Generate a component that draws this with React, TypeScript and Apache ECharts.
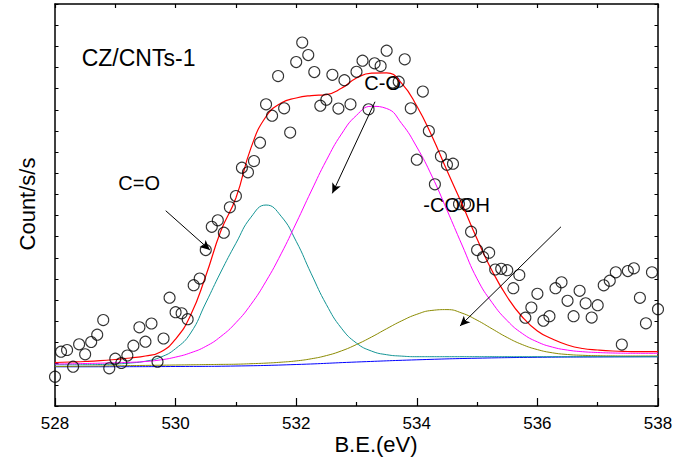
import React, { useEffect, useRef } from "react";
import * as echarts from "echarts";

// Measured spectrum (binding energy grid 528.0 .. 538.0 eV, step 0.1 eV)
const pointStart = 528;
const pointStep = 0.1;
const measured = [
  1.385, 2.566, 2.647, 1.857, 2.916, 2.443, 3.025, 3.37, 4.064, 1.782,
  2.235, 2.032, 2.387, 2.85, 3.719, 3.039, 3.899, 2.094, 3.19, 5.118,
  4.433, 4.381, 4.102, 5.709, 6.025, 7.372, 8.469, 8.776, 8.19, 9.39,
  9.924, 11.262, 11.044, 11.578, 12.443, 14.258, 13.719, 15.595, 14.069, 12.925,
  16.257, 17.179, 16.588, 15.784, 14.192, 14.476, 15.652, 14.06, 15.397, 14.258,
  15.794, 16.319, 14.022, 16.196, 16.068, 16.791, 15.288, 15.326, 16.385, 14.069,
  11.64, 14.863, 12.996, 10.477, 11.801, 11.404, 11.451, 9.546, 9.546, 8.237,
  7.372, 7.042, 7.245, 6.451, 6.484, 6.418, 5.567, 6.191, 4.173, 4.655,
  5.302, 4.031, 4.244, 5.567, 5.846, 4.972, 4.244, 5.444, 4.853, 4.182,
  4.764, 5.704, 5.922, 6.318, 2.906, 6.38, 6.508, 5.113, 3.908, 6.318,
  4.575,
];

// Fitted curves (grid 528.0 .. 538.0 eV, step 0.25 eV)
const curveStart = 528;
const curveStep = 0.25;
const envelope = [
  2.056, 2.079, 2.103, 2.141, 2.198, 2.268, 2.363, 2.552, 3.166,
  4.301, 6.144, 8.27, 9.83, 12.2, 13.681, 14.319, 14.556,
  14.674, 14.721, 15.014, 15.501, 15.737, 15.747, 15.25, 14.178,
  12.76, 11.129, 9.546, 7.892, 6.38, 5.151, 4.206, 3.544,
  3.166, 2.883, 2.717, 2.647, 2.599, 2.576, 2.566, 2.566,
];
const peakCO = [
  1.947, 1.947, 1.952, 1.961, 1.985, 2.032, 2.117, 2.306, 2.713,
  3.45, 4.868, 6.333, 7.689, 8.923, 9.499, 8.97, 7.784,
  6.248, 4.797, 3.677, 2.973, 2.595, 2.424, 2.358, 2.33,
  2.33, 2.33, 2.33, 2.33, 2.33, 2.33, 2.33, 2.33,
  2.33, 2.33, 2.33, 2.33, 2.33, 2.33, 2.33, 2.33,
];
const peakC_O = [
  1.985, 1.994, 2.008, 2.023, 2.042, 2.065, 2.103, 2.179, 2.311,
  2.514, 2.817, 3.285, 3.937, 4.802, 5.898, 7.193, 8.648,
  10.161, 11.611, 12.85, 13.738, 14.164, 14.06, 13.346, 12.24,
  10.87, 9.263, 7.609, 6.011, 4.882, 4.031, 3.426, 3.029,
  2.783, 2.642, 2.566, 2.528, 2.505, 2.495, 2.491, 2.491,
];
const peakCOOH = [
  1.867, 1.871, 1.881, 1.89, 1.9, 1.909, 1.919, 1.928, 1.938,
  1.947, 1.957, 1.966, 1.975, 1.999, 2.027, 2.07, 2.131,
  2.231, 2.382, 2.604, 2.906, 3.261, 3.653, 4.026, 4.334,
  4.518, 4.556, 4.39, 4.055, 3.644, 3.237, 2.902, 2.665,
  2.514, 2.434, 2.396, 2.377, 2.368, 2.363, 2.363, 2.363,
];
// Background (grid 528 .. 538 eV, step 1 eV)
const baselineX = [528, 529, 530, 531, 532, 533, 534, 535, 536, 537, 538];
const baseline = [1.853, 1.857, 1.867, 1.89, 1.961, 2.079, 2.183, 2.259, 2.302, 2.32, 2.33];

// Annotation arrows: [fromX, fromY, toX, toY] in data units
const arrowCO = [529.836, 9.23, 530.57, 7.37];
const arrowC_O = [533.307, 14.38, 532.599, 10.05];
const arrowCOOH = [536.391, 8.47, 534.716, 3.78];

const xTickLabels = ["528", "530", "532", "534", "536", "538"];

const FONT = '"Liberation Sans", Arial, sans-serif';

function toPairs(start: number, step: number, ys: number[]) {
  return ys.map((y, i) => [Math.round((start + i * step) * 1000) / 1000, y]);
}

export default function App() {
  const ref = useRef<HTMLDivElement>(null);
  useEffect(() => {
    if (!ref.current) return;
    const chart = echarts.init(ref.current, undefined, { renderer: "svg" });
    const axisLine = { show: true, onZero: false, lineStyle: { color: "#000", width: 1.5 } };
    const arrowData = [arrowCO, arrowC_O, arrowCOOH].map((a) => [
      { coord: [a[0], a[1]], symbol: "none" },
      { coord: [a[2], a[3]], symbol: "arrow" },
    ]);
    const lineSeries = (name: string, data: number[][], color: string, width = 1) => ({
      name,
      type: "line",
      data,
      smooth: true,
      symbol: "none",
      lineStyle: { color, width },
      silent: true,
      z: 2,
    });
    chart.setOption({
      animation: false,
      backgroundColor: "#fff",
      grid: { left: 55, right: 20, top: 4, bottom: 66, containLabel: false },
      xAxis: [
        {
          type: "value",
          min: 528,
          max: 538,
          interval: 2,
          position: "bottom",
          axisLine,
          axisTick: { show: true, inside: true, length: 8, lineStyle: { color: "#000", width: 1.2 } },
          minorTick: { show: true, splitNumber: 2, length: 4, lineStyle: { color: "#000", width: 1.2 } },
          axisLabel: {
            color: "#000",
            fontSize: 17,
            fontFamily: FONT,
            margin: 9,
            formatter: (v: number) => {
              const s = String(v);
              return xTickLabels.indexOf(s) >= 0 ? s : "";
            },
          },
          splitLine: { show: false },
        },
        {
          type: "value",
          min: 528,
          max: 538,
          interval: 1,
          position: "top",
          axisLine,
          axisTick: { show: true, inside: true, length: 4, lineStyle: { color: "#000", width: 1.2 } },
          axisLabel: { show: false },
          splitLine: { show: false },
        },
      ],
      yAxis: [
        {
          type: "value",
          min: 0,
          max: 19,
          interval: 1,
          position: "left",
          axisLine,
          axisTick: { show: true, inside: true, length: 3.5, lineStyle: { color: "#000", width: 1 } },
          axisLabel: { show: false },
          splitLine: { show: false },
        },
        {
          type: "value",
          min: 0,
          max: 19,
          interval: 1,
          position: "right",
          axisLine,
          axisTick: { show: true, inside: true, length: 3.5, lineStyle: { color: "#000", width: 1 } },
          axisLabel: { show: false },
          splitLine: { show: false },
        },
      ],
      series: [
        {
          ...lineSeries("Background", baseline.map((y, i) => [baselineX[i], y]), "#0000ff"),
          markLine: {
            silent: true,
            symbol: ["none", "arrow"],
            symbolSize: [7, 10],
            label: { show: false },
            lineStyle: { color: "#000", width: 1, type: "solid" },
            emphasis: { disabled: true },
            data: arrowData,
          },
        },
        lineSeries("-COOH", toPairs(curveStart, curveStep, peakCOOH), "#8a8a00"),
        lineSeries("C=O", toPairs(curveStart, curveStep, peakCO), "#129494"),
        lineSeries("C-O", toPairs(curveStart, curveStep, peakC_O), "#ff00ff"),
        lineSeries("Envelope", toPairs(curveStart, curveStep, envelope), "#ff0000", 1.2),
        {
          name: "Measured",
          type: "scatter",
          data: toPairs(pointStart, pointStep, measured),
          symbol: "circle",
          symbolSize: 11,
          itemStyle: { color: "rgba(0,0,0,0)", borderColor: "#000", borderWidth: 1.1 },
          silent: true,
          clip: false,
          z: 3,
        },
      ],
      graphic: [
        {
          type: "text",
          x: 81.7,
          y: 57.5,
          style: { text: "CZ/CNTs-1", fill: "#000", font: `23px ${FONT}`, textAlign: "left", textVerticalAlign: "middle" },
        },
        {
          type: "text",
          x: 118.3,
          y: 182.5,
          style: { text: "C=O", fill: "#000", font: `20px ${FONT}`, textAlign: "left", textVerticalAlign: "middle" },
        },
        {
          type: "text",
          x: 364.3,
          y: 83.3,
          style: { text: "C-O", fill: "#000", font: `20px ${FONT}`, textAlign: "left", textVerticalAlign: "middle" },
        },
        {
          type: "text",
          x: 423.3,
          y: 205,
          style: { text: "-COOH", fill: "#000", font: `20px ${FONT}`, textAlign: "left", textVerticalAlign: "middle" },
        },
        {
          type: "text",
          x: 376,
          y: 444,
          style: { text: "B.E.(eV)", fill: "#000", font: `22px ${FONT}`, textAlign: "center", textVerticalAlign: "middle" },
        },
        {
          type: "text",
          x: 27,
          y: 204,
          rotation: Math.PI / 2,
          style: { text: "Count/s/s", fill: "#000", font: `22px ${FONT}`, textAlign: "center", textVerticalAlign: "middle" },
        },
      ],
    });
    return () => chart.dispose();
  }, []);
  return (
    <div
      ref={ref}
      style={{ position: "fixed", left: 0, top: 0, width: 678, height: 472, background: "#fff" }}
    />
  );
}
